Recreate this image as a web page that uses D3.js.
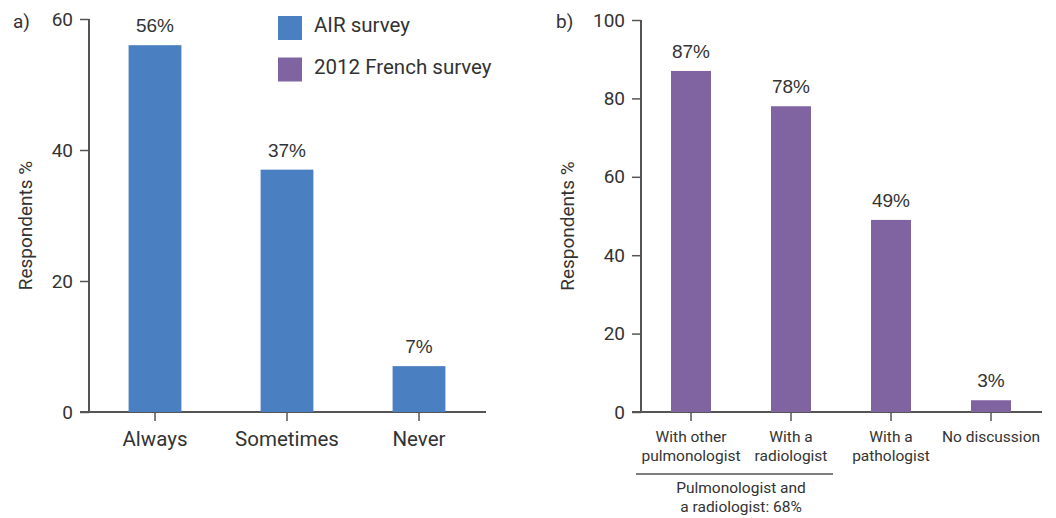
<!DOCTYPE html>
<html>
<head>
<meta charset="utf-8">
<script src="https://cdn.jsdelivr.net/npm/d3@7"></script>
<style>
  html, body { margin: 0; padding: 0; background: #fff; }
  svg { display: block; }
  text { fill: #333; }
</style>
</head>
<body>
<svg id="chart" width="1056" height="518"></svg>
<script>
// Panel a: AIR survey
const airCategories = ["Always", "Sometimes", "Never"];
const airValues = [56, 37, 7];
const airTicks = [0, 20, 40, 60];

// Panel b: 2012 French survey
const frCategories = [
  ["With other", "pulmonologist"],
  ["With a", "radiologist"],
  ["With a", "pathologist"],
  ["No discussion"]
];
const frValues = [87, 78, 49, 3];
const frTicks = [0, 20, 40, 60, 80, 100];
const frGroupNote = ["Pulmonologist and", "a radiologist: 68%"];

const legendItems = ["AIR survey", "2012 French survey"];

const BLUE = "#4a7fc1";
const PURPLE = "#8064a2";
const AXIS = "#555";
const LABEL_FONT = "Roboto, 'DejaVu Sans', sans-serif";
const VALUE_FONT = "'Liberation Sans', Arial, sans-serif";

const svg = d3.select("#chart");

function panel(opts) {
  const g = svg.append("g");
  const x = d3.scaleBand()
    .domain(d3.range(opts.values.length))
    .range([opts.x0, opts.x1])
    .paddingInner(0).paddingOuter(0);
  const y = d3.scaleLinear()
    .domain([0, opts.max])
    .range([opts.yBottom, opts.yTop]);

  // y axis
  const yAxis = d3.axisLeft(y).tickValues(opts.ticks).tickSize(9).tickPadding(7);
  const ya = g.append("g").attr("transform", `translate(${opts.x0},0)`).call(yAxis);
  ya.select(".domain").remove();
  ya.append("line").attr("x1", 0).attr("x2", 0)
    .attr("y1", opts.yTop).attr("y2", opts.yBottom)
    .attr("stroke", AXIS).attr("stroke-width", 2);
  ya.selectAll(".tick line").attr("stroke", AXIS).attr("stroke-width", 1.5);
  ya.selectAll(".tick text")
    .attr("font-family", LABEL_FONT).attr("font-size", 19).attr("fill", "#333");

  // x axis baseline with ticks
  const xa = g.append("g").attr("transform", `translate(0,${opts.yBottom})`);
  xa.append("line").attr("x1", opts.x0 - 9).attr("x2", opts.x1 + 1)
    .attr("y1", 0).attr("y2", 0).attr("stroke", AXIS).attr("stroke-width", 2);
  xa.selectAll("line.xt").data(opts.values).join("line").attr("class", "xt")
    .attr("x1", (d, i) => x(i) + x.bandwidth() / 2)
    .attr("x2", (d, i) => x(i) + x.bandwidth() / 2)
    .attr("y1", 0).attr("y2", 9).attr("stroke", AXIS).attr("stroke-width", 1.5);

  // bars
  const bw = x.bandwidth() * opts.barFrac;
  g.selectAll("rect.bar").data(opts.values).join("rect").attr("class", "bar")
    .attr("x", (d, i) => x(i) + (x.bandwidth() - bw) / 2)
    .attr("width", bw)
    .attr("y", d => y(d))
    .attr("height", d => y(0) - y(d))
    .attr("fill", opts.color);

  // value labels
  g.selectAll("text.val").data(opts.values).join("text").attr("class", "val")
    .attr("x", (d, i) => x(i) + x.bandwidth() / 2)
    .attr("y", d => y(d) - 13)
    .attr("text-anchor", "middle")
    .attr("font-family", VALUE_FONT).attr("font-size", 19)
    .text(d => d + "%");

  // category labels
  g.selectAll("text.cat").data(opts.categories).join("text").attr("class", "cat")
    .attr("x", (d, i) => x(i) + x.bandwidth() / 2)
    .attr("y", opts.catY)
    .attr("text-anchor", "middle")
    .attr("font-family", LABEL_FONT).attr("font-size", opts.catSize)
    .each(function (d) {
      const lines = Array.isArray(d) ? d : [d];
      d3.select(this).selectAll("tspan").data(lines).join("tspan")
        .attr("x", d3.select(this).attr("x"))
        .attr("dy", (l, j) => j === 0 ? 0 : opts.catLine)
        .text(l => l);
    });

  // y axis title
  g.append("text")
    .attr("transform", `translate(${opts.titleX},${(opts.yTop + opts.yBottom) / 2 + 10}) rotate(-90)`)
    .attr("text-anchor", "middle")
    .attr("font-family", LABEL_FONT).attr("font-size", 19)
    .text("Respondents %");

  // panel letter
  g.append("text").attr("x", opts.letterX).attr("y", 28)
    .attr("font-family", LABEL_FONT).attr("font-size", 19)
    .text(opts.letter);

  return { g, x, y };
}

panel({
  values: airValues, categories: airCategories, ticks: airTicks, max: 60,
  x0: 89, x1: 485, yTop: 19, yBottom: 412, barFrac: 0.4, color: BLUE,
  catY: 446, catSize: 20.5, catLine: 22, titleX: 32, letter: "a)", letterX: 13
});

const b = panel({
  values: frValues, categories: frCategories, ticks: frTicks, max: 100,
  x0: 641, x1: 1041, yTop: 20, yBottom: 412, barFrac: 0.4, color: PURPLE,
  catY: 442, catSize: 15.5, catLine: 19, titleX: 574, letter: "b)", letterX: 556
});

// bracket under the first two categories of panel b
const bx = b.x;
b.g.append("line")
  .attr("x1", bx(0) - 5).attr("x2", bx(1) + bx.bandwidth() - 8)
  .attr("y1", 474).attr("y2", 474)
  .attr("stroke", AXIS).attr("stroke-width", 1.5);
b.g.append("text")
  .attr("x", (bx(0) + bx(1) + bx.bandwidth()) / 2 - 0)
  .attr("y", 493)
  .attr("text-anchor", "middle")
  .attr("font-family", LABEL_FONT).attr("font-size", 15.5)
  .selectAll("tspan").data(frGroupNote).join("tspan")
  .attr("x", (bx(0) + bx(1) + bx.bandwidth()) / 2)
  .attr("dy", (d, i) => i === 0 ? 0 : 19)
  .text(d => d);

// legend
const legend = svg.append("g");
const legendColors = [BLUE, PURPLE];
legend.selectAll("rect").data(legendItems).join("rect")
  .attr("x", 278).attr("y", (d, i) => 16 + i * 41.5)
  .attr("width", 24).attr("height", 24)
  .attr("fill", (d, i) => legendColors[i]);
legend.selectAll("text").data(legendItems).join("text")
  .attr("x", 314).attr("y", (d, i) => 32 + i * 41.5)
  .attr("font-family", LABEL_FONT).attr("font-size", 20.5)
  .text(d => d);
</script>
</body>
</html>
